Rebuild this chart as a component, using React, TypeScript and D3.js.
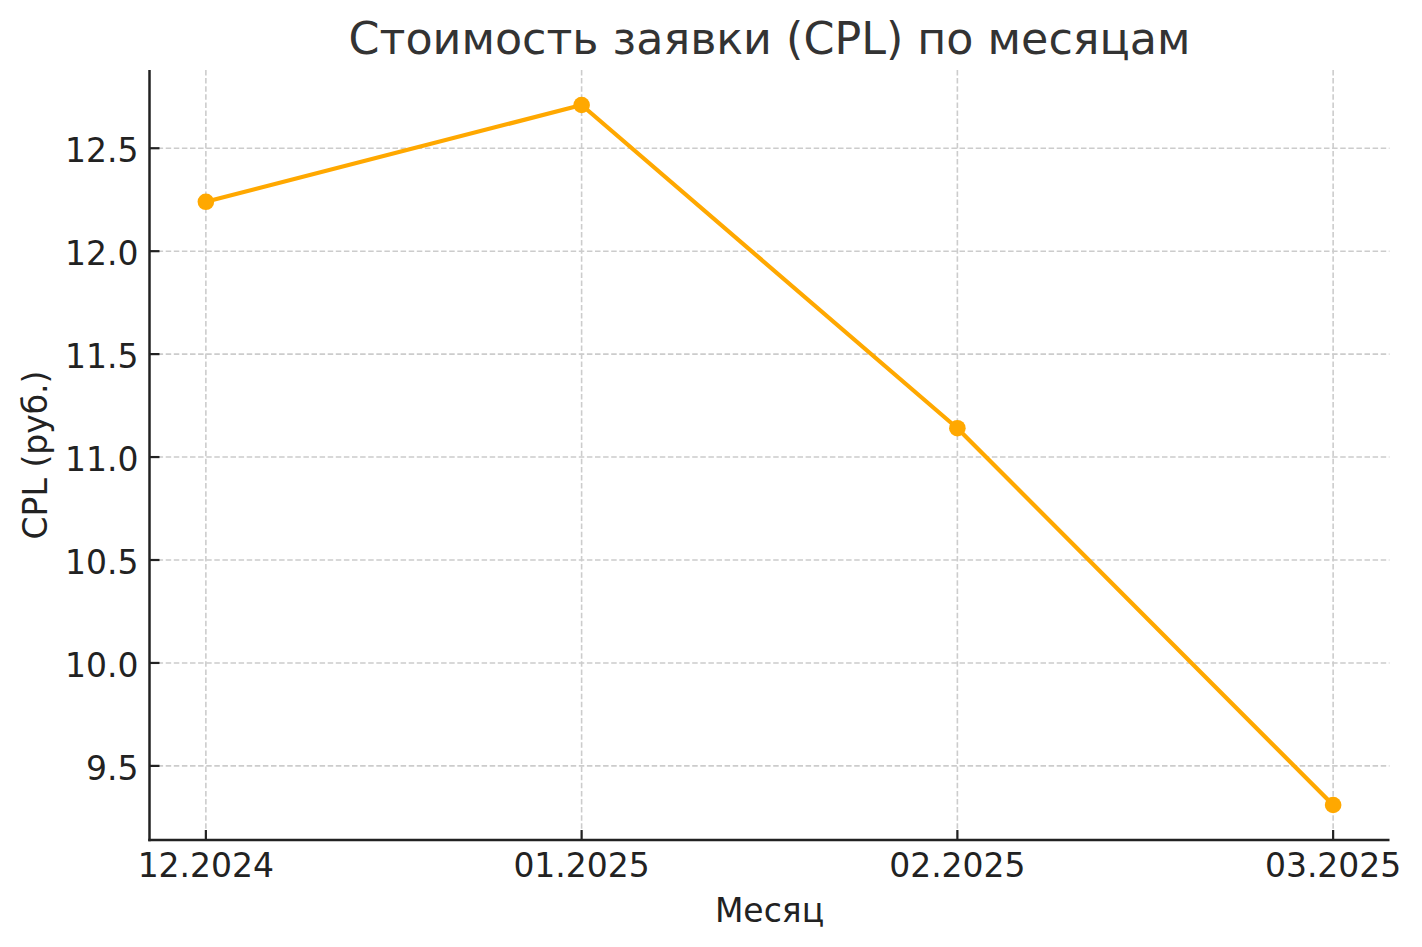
import React from "react";
import * as d3 from "d3";

const months: string[] = ["12.2024", "01.2025", "02.2025", "03.2025"];
const cplValues: number[] = [12.24, 12.71, 11.14, 9.31];
const yTicks: number[] = [9.5, 10.0, 10.5, 11.0, 11.5, 12.0, 12.5];

const W = 1422;
const H = 947;
const left = 149.5;
const right = 1389.5;
const top = 70;
const bottom = 840;
const FONT = "'DejaVu Sans', sans-serif";

export default function App() {
  const n = months.length;
  const x = d3
    .scaleLinear()
    .domain([-0.05 * (n - 1), (n - 1) * 1.05])
    .range([left, right]);
  const [ymin, ymax] = d3.extent(cplValues) as [number, number];
  const pad = (ymax - ymin) * 0.05;
  const y = d3.scaleLinear().domain([ymin - pad, ymax + pad]).range([bottom, top]);

  const line = d3
    .line<number>()
    .x((_, i) => x(i))
    .y((d) => y(d));

  const gridStyle = { stroke: "#cccccc", strokeWidth: 1.6, strokeDasharray: "5.5,2.6" };

  return (
    <svg
      width={W}
      height={H}
      style={{ position: "absolute", left: 0, top: 0, display: "block", background: "#fff" }}
      fontFamily={FONT}
    >
      {/* grid */}
      {yTicks.map((t) => (
        <line key={"gy" + t} x1={left} x2={right} y1={y(t)} y2={y(t)} {...gridStyle} />
      ))}
      {months.map((m, i) => (
        <line key={"gx" + m} x1={x(i)} x2={x(i)} y1={top} y2={bottom} {...gridStyle} />
      ))}

      {/* line + markers */}
      <path d={line(cplValues) || ""} fill="none" stroke="#FFA800" strokeWidth={4.2} strokeLinejoin="round" />
      {cplValues.map((v, i) => (
        <circle key={"p" + i} cx={x(i)} cy={y(v)} r={8.3} fill="#FFA800" />
      ))}

      {/* spines */}
      <line x1={left} x2={left} y1={top} y2={bottom + 1.25} stroke="#222" strokeWidth={2.5} />
      <line x1={left - 1.25} x2={right} y1={bottom} y2={bottom} stroke="#222" strokeWidth={2.5} />

      {/* y ticks */}
      {yTicks.map((t) => (
        <g key={"ty" + t}>
          <line x1={left} x2={left + 10} y1={y(t)} y2={y(t)} stroke="#222" strokeWidth={2.2} />
          <text x={138.5} y={y(t) + 14} textAnchor="end" fontSize={33} fill="#222">
            {t.toFixed(1)}
          </text>
        </g>
      ))}

      {/* x ticks */}
      {months.map((m, i) => (
        <g key={"tx" + m}>
          <line x1={x(i)} x2={x(i)} y1={bottom} y2={bottom - 10} stroke="#222" strokeWidth={2.2} />
          <text x={x(i)} y={876.5} textAnchor="middle" fontSize={33} fill="#222">
            {m}
          </text>
        </g>
      ))}

      {/* labels */}
      <text x={(left + right) / 2} y={921.5} textAnchor="middle" fontSize={33} fill="#222">
        Месяц
      </text>
      <text
        transform={`translate(47, ${(top + bottom) / 2}) rotate(-90)`}
        textAnchor="middle"
        fontSize={33}
        fill="#222"
      >
        CPL (руб.)
      </text>
      <text x={(left + right) / 2} y={54} textAnchor="middle" fontSize={44.4} fill="#333">
        Стоимость заявки (CPL) по месяцам
      </text>
    </svg>
  );
}
